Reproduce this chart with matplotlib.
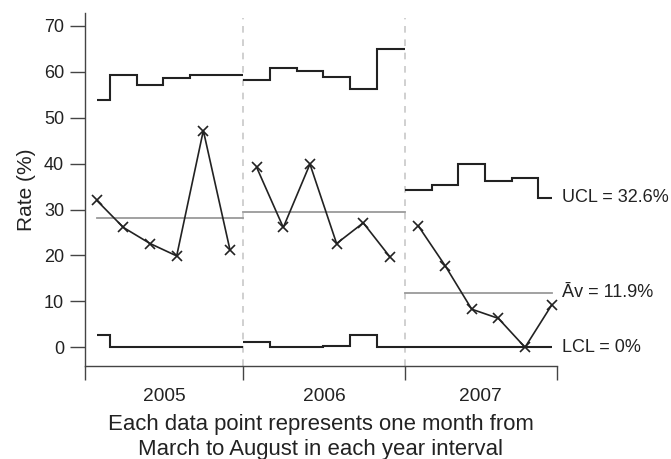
import matplotlib
matplotlib.use("Agg")
import matplotlib.pyplot as plt
import numpy as np

plt.rcParams['font.family'] = ['Liberation Sans', 'DejaVu Sans']

years = ["2005", "2006", "2007"]
rate = {
    "2005": [32.0, 26.1, 22.6, 19.9, 47.2, 21.2],
    "2006": [39.2, 26.1, 39.9, 22.6, 27.1, 19.7],
    "2007": [26.4, 17.8, 8.3, 6.3, 0.0, 9.2],
}
ucl = {
    "2005": [53.9, 59.4, 57.1, 58.6, 59.3, 59.3],
    "2006": [58.2, 60.9, 60.2, 58.9, 56.3, 65.0],
    "2007": [34.3, 35.4, 39.9, 36.2, 36.9, 32.6],
}
lcl = {
    "2005": [2.7, 0, 0, 0, 0, 0],
    "2006": [1.2, 0, 0, 0.35, 2.7, 0],
    "2007": [0, 0, 0, 0, 0, 0],
}
average = {"2005": 28.2, "2006": 29.5, "2007": 11.9}
labels_right = ["UCL = 32.6%", "Āv = 11.9%", "LCL = 0%"]
label_values = [32.6, 11.9, 0.0]

line_col = '#222222'
fig = plt.figure(figsize=(6.71, 4.59), dpi=100)
ax = fig.add_axes([85 / 671, 93 / 459, 472 / 671, 353 / 459])

n = 6
x_left, x_right = -0.44, 17.27
bounds = [x_left, 5.5, 11.55, x_right]

for i, yr in enumerate(years):
    x = np.arange(n) + i * n + (0.07 if i == 2 else 0)
    mids = list(x[:-1] + 0.5)
    start = x[0] if i == 0 else bounds[i]
    end = x[-1] if i == 2 else bounds[i + 1]
    edges = [start] + mids + [end]
    ax.stairs(ucl[yr], edges, baseline=None, color=line_col, lw=1.5)
    ax.stairs(lcl[yr], edges, baseline=None, color=line_col, lw=1.5)
    ax.plot([start, end], [average[yr]] * 2, color='#9a9a9a', lw=1.3)
    ax.plot(x, rate[yr], color=line_col, lw=1.2, marker='x', ms=7, mew=1.2)
    ax.text((bounds[i] + bounds[i + 1]) / 2, -10.8, yr, ha='center', va='center',
            fontsize=13.8, color='#222222')

for b in bounds[1:3]:
    ax.plot([b, b], [-4.07, 71.8], color='#c8c8c8', lw=1.2, ls=(0, (4, 4)), zorder=0)

for txt, v in zip(labels_right, label_values):
    ax.text(17.45, v, txt, ha='left', va='center', fontsize=13, color='#222222',
            clip_on=False)

ax.set_xlim(x_left, x_right)
ax.set_ylim(-4.07, 72.8)
ax.set_yticks(range(0, 71, 10))
ax.set_xticks(bounds)
ax.set_xticklabels([])
ax.tick_params(axis='y', direction='out', length=11, width=1, color='#444444',
               labelsize=13, labelcolor='#222222', pad=4)
ax.tick_params(axis='x', direction='out', length=10, width=1, color='#444444')
for s in ['top', 'right']:
    ax.spines[s].set_visible(False)
for s in ['left', 'bottom']:
    ax.spines[s].set_color('#444444')
    ax.spines[s].set_linewidth(1)

ax.set_ylabel('Rate (%)', fontsize=15, color='#222222', labelpad=6)
fig.text(321 / 671, 1 - 437 / 459,
         'Each data point represents one month from\nMarch to August in each year interval',
         ha='center', va='center', fontsize=15.9, color='#222222', linespacing=1.22)

fig.savefig('out.png', dpi=100)
